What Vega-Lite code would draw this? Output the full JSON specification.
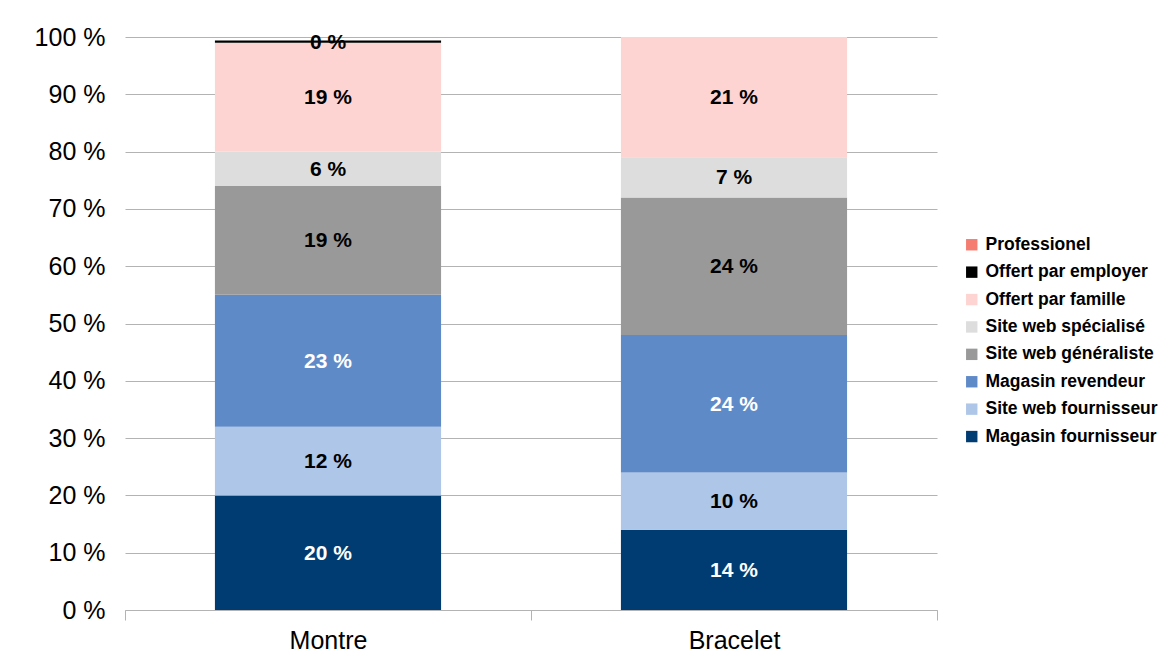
{
  "$schema": "https://vega.github.io/schema/vega-lite/v6.json",
  "autosize": {"type": "none"},
  "width": 812,
  "height": 573,
  "padding": {"left": 125, "top": 37, "right": 236, "bottom": 57},
  "background": "white",
  "config": {
    "font": "Liberation Sans",
    "view": {"stroke": null}
  },
  "data": {
    "values": [
      {"cat": "Montre", "source": "Magasin fournisseur", "value": 20, "order": 1},
      {"cat": "Montre", "source": "Site web fournisseur", "value": 12, "order": 2},
      {"cat": "Montre", "source": "Magasin revendeur", "value": 23, "order": 3},
      {"cat": "Montre", "source": "Site web généraliste", "value": 19, "order": 4},
      {"cat": "Montre", "source": "Site web spécialisé", "value": 6, "order": 5},
      {"cat": "Montre", "source": "Offert par famille", "value": 19, "order": 6},
      {"cat": "Montre", "source": "Offert par employer", "value": 0.4, "order": 7},
      {"cat": "Bracelet", "source": "Magasin fournisseur", "value": 14, "order": 1},
      {"cat": "Bracelet", "source": "Site web fournisseur", "value": 10, "order": 2},
      {"cat": "Bracelet", "source": "Magasin revendeur", "value": 24, "order": 3},
      {"cat": "Bracelet", "source": "Site web généraliste", "value": 24, "order": 4},
      {"cat": "Bracelet", "source": "Site web spécialisé", "value": 7, "order": 5},
      {"cat": "Bracelet", "source": "Offert par famille", "value": 21, "order": 6}
    ]
  },
  "transform": [
    {"stack": "value", "groupby": ["cat"], "sort": [{"field": "order"}], "as": ["y0", "y1"]},
    {"calculate": "(datum.y0 + datum.y1) / 2", "as": "ymid"},
    {"calculate": "format(datum.value, '.0f') + ' %'", "as": "label"}
  ],
  "encoding": {
    "x": {
      "field": "cat",
      "type": "nominal",
      "sort": ["Montre", "Bracelet"],
      "scale": {"paddingInner": 0, "paddingOuter": 0},
      "axis": {
        "title": null,
        "labelAngle": 0,
        "labelFontSize": 25,
        "labelColor": "#000000",
        "labelPadding": 8,
        "tickBand": "extent",
        "tickSize": 10,
        "tickColor": "#b3b3b3",
        "domainColor": "#b3b3b3",
        "grid": false
      }
    }
  },
  "layer": [
    {
      "mark": {"type": "bar", "width": {"band": 0.557}},
      "encoding": {
        "y": {
          "field": "y0",
          "type": "quantitative",
          "scale": {"domain": [0, 100]},
          "axis": {
            "title": null,
            "values": [0, 10, 20, 30, 40, 50, 60, 70, 80, 90, 100],
            "labelExpr": "datum.value + ' %'",
            "labelFontSize": 25,
            "labelColor": "#000000",
            "labelPadding": 20,
            "ticks": false,
            "domain": false,
            "gridColor": "#b3b3b3",
            "gridWidth": 1
          }
        },
        "y2": {"field": "y1"},
        "color": {
          "field": "source",
          "type": "nominal",
          "scale": {
            "domain": ["Professionel", "Offert par employer", "Offert par famille", "Site web spécialisé", "Site web généraliste", "Magasin revendeur", "Site web fournisseur", "Magasin fournisseur"],
            "range": ["#f47c70", "#000000", "#fdd4d2", "#dddddd", "#999999", "#5f8ac8", "#aec6e8", "#003c71"]
          },
          "legend": {
            "title": null,
            "orient": "none",
            "legendX": 838,
            "legendY": 199,
            "symbolType": "square",
            "symbolSize": 130,
            "symbolStrokeWidth": 0,
            "labelFontSize": 17.5,
            "labelFontWeight": "bold",
            "labelColor": "#000000",
            "labelOffset": 5,
            "labelLimit": 0,
            "rowPadding": 8.4
          }
        }
      }
    },
    {
      "mark": {"type": "text", "fontSize": 21, "fontWeight": "bold", "baseline": "middle", "align": "center", "dy": 1},
      "encoding": {
        "y": {"field": "ymid", "type": "quantitative"},
        "text": {"field": "label"},
        "color": {
          "condition": {"test": "datum.source === 'Magasin fournisseur' || datum.source === 'Magasin revendeur'", "value": "#ffffff"},
          "value": "#000000"
        }
      }
    }
  ]
}
